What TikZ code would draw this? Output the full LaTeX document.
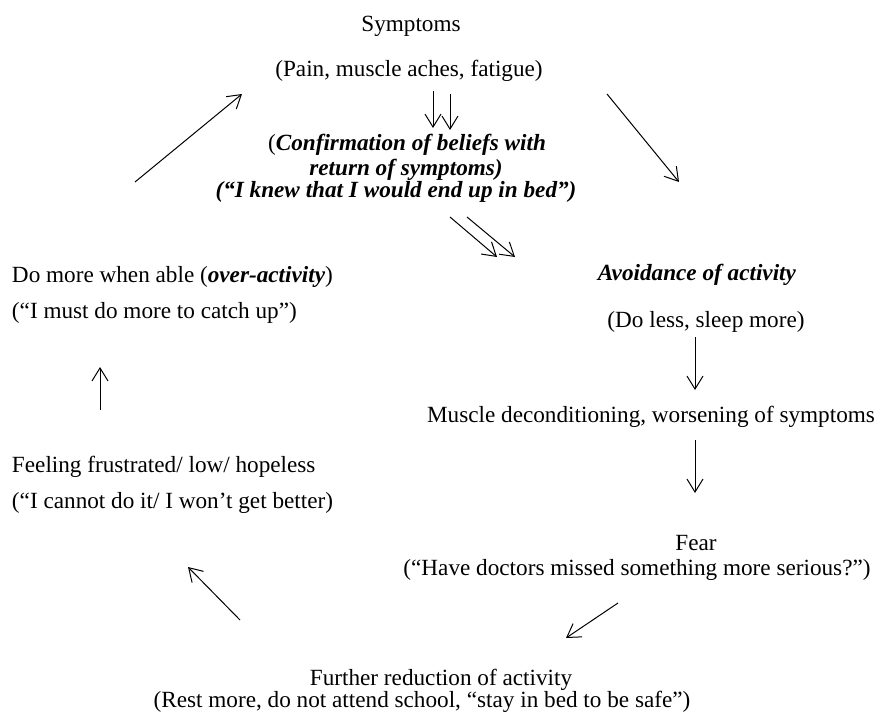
\documentclass[tikz,border=0pt]{standalone}
\usepackage{fontspec}
\setmainfont{Liberation Serif}
\usetikzlibrary{arrows.meta}
\tikzset{
  txt/.style={inner sep=0pt, outer sep=0pt, anchor=base, font=\fontsize{23.2pt}{27pt}\selectfont},
  ltxt/.style={txt, anchor=base west},
  arr/.style={line width=1pt, -{Straight Barb[length=13pt,width=16pt,line width=1pt]}}
}
\newcommand{\bi}[1]{\textbf{\textit{#1}}}
\begin{document}
\begin{tikzpicture}[x=1pt,y=-1pt]
\useasboundingbox (0,0) rectangle (878,717);
% texts
\node[txt] (sym) at (411,32) {Symptoms};
\node[txt] (pain) at (409,77) {(Pain, muscle aches, fatigue)};
\node[txt] (conf1) at (407,150) {(\bi{Confirmation of beliefs with}};
\node[txt] (conf2) at (406,175) {\bi{return of symptoms)}};
\node[txt] (conf3) at (396,197) {\bi{(“I knew that I would end up in bed”)}};
\node[txt] (avoid) at (697,280) {\bi{Avoidance of activity}};
\node[txt] (doless) at (706,327) {(Do less, sleep more)};
\node[txt] (muscle) at (651,422) {Muscle deconditioning, worsening of symptoms};
\node[txt] (fear) at (696,550) {Fear};
\node[txt] (doctors) at (637,575) {(“Have doctors missed something more serious?”)};
\node[txt] (further) at (441,685) {Further reduction of activity};
\node[txt] (rest) at (422,707) {(Rest more, do not attend school, “stay in bed to be safe”)};
\node[ltxt] (domore) at (12,282) {Do more when able (\bi{over-activity})};
\node[ltxt] (catch) at (12,318) {(“I must do more to catch up”)};
\node[ltxt] (frust) at (12,472) {Feeling frustrated/ low/ hopeless};
\node[ltxt] (cannot) at (12,508) {(“I cannot do it/ I won’t get better)};
% arrow end points
\coordinate (p1s) at (433,91);  \coordinate (p1e) at (433,128);
\coordinate (p2s) at (450,94);  \coordinate (p2e) at (450,130);
\coordinate (r1s) at (607,94);  \coordinate (r1e) at (679,182);
\coordinate (l1s) at (135,182); \coordinate (l1e) at (242,94);
\coordinate (d1s) at (450,217); \coordinate (d1e) at (497,257);
\coordinate (d2s) at (467,217); \coordinate (d2e) at (515,257);
\coordinate (v1s) at (695,337); \coordinate (v1e) at (695,390);
\coordinate (v2s) at (695,440); \coordinate (v2e) at (695,493);
\coordinate (f1s) at (618,603); \coordinate (f1e) at (566,638);
\coordinate (u1s) at (240,620); \coordinate (u1e) at (188,567);
\coordinate (u2s) at (100,410); \coordinate (u2e) at (100,367);
% arrows
\draw[arr] (p1s) -- (p1e);
\draw[arr] (p2s) -- (p2e);
\draw[arr] (r1s) -- (r1e);
\draw[arr] (l1s) -- (l1e);
\draw[arr] (d1s) -- (d1e);
\draw[arr] (d2s) -- (d2e);
\draw[arr] (v1s) -- (v1e);
\draw[arr] (v2s) -- (v2e);
\draw[arr] (f1s) -- (f1e);
\draw[arr] (u1s) -- (u1e);
\draw[arr] (u2s) -- (u2e);
\end{tikzpicture}
\end{document}
